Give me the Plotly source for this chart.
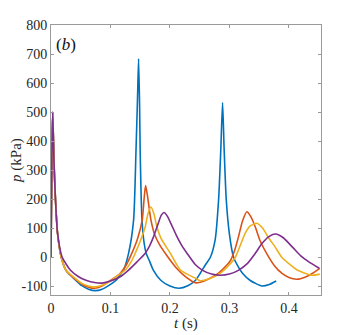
import plotly.graph_objects as go

# time (s) and pressure (kPa)
t_blue = [0, 0.0015, 0.0028, 0.005, 0.0075, 0.011, 0.017, 0.025, 0.033, 0.041,
          0.052, 0.063, 0.0745, 0.086, 0.098, 0.109, 0.1165, 0.122, 0.1305, 0.1389,
          0.1428, 0.1455, 0.1473, 0.149, 0.150, 0.153, 0.1565, 0.160, 0.166, 0.172,
          0.185, 0.200, 0.2155, 0.230, 0.2426, 0.251, 0.260, 0.268, 0.276, 0.2818,
          0.2855, 0.2885, 0.291, 0.2947, 0.300, 0.307, 0.314, 0.322, 0.335, 0.3546,
          0.367, 0.3787]
p_blue = [0, 350, 500, 330, 200, 83, 2, -44, -63, -78,
          -98, -110, -115, -110, -96, -80, -60, -44, 14, 129,
          359, 550, 684, 520, 359, 129, 50, 14, -15, -44,
          -80, -99, -107, -98, -80, -55, -25, 0, 60, 198,
          370, 533, 380, 198, 80, 0, -30, -55, -80, -99,
          -94, -82]

t_orange = [0, 0.0015, 0.0028, 0.005, 0.0075, 0.011, 0.017, 0.025, 0.033, 0.041,
            0.052, 0.063, 0.073, 0.085, 0.100, 0.1165, 0.127, 0.136, 0.145, 0.1534,
            0.1565, 0.159, 0.162, 0.165, 0.168, 0.174, 0.182, 0.195, 0.210, 0.225,
            0.2426, 0.251, 0.265, 0.2817, 0.292, 0.3013, 0.309, 0.3153, 0.322, 0.3294,
            0.336, 0.3434, 0.352, 0.3657, 0.376, 0.388, 0.400, 0.4134, 0.428, 0.440,
            0.452]
p_orange = [0, 350, 500, 330, 200, 83, 2, -44, -62, -76,
            -93, -103, -107, -100, -80, -55, -25, 14, 60, 129,
            200, 247, 215, 170, 129, 80, 45, 5, -35, -65,
            -88, -86, -75, -55, -35, -13, 25, 71, 125, 157,
            140, 105, 55, 2, -30, -55, -70, -76, -68, -55,
            -38]

t_yellow = [0, 0.0015, 0.0028, 0.005, 0.0075, 0.011, 0.017, 0.025, 0.033, 0.041,
            0.052, 0.063, 0.075, 0.088, 0.100, 0.113, 0.125, 0.135, 0.1417, 0.150,
            0.1585, 0.163, 0.168, 0.173, 0.178, 0.185, 0.2005, 0.2176, 0.2425, 0.251,
            0.265, 0.2846, 0.298, 0.310, 0.3266, 0.335, 0.346, 0.356, 0.365, 0.377,
            0.388, 0.3994, 0.415, 0.4386, 0.452]
p_yellow = [0, 350, 500, 330, 200, 83, 2, -44, -60, -73,
            -90, -99, -102, -95, -82, -62, -44, -15, 14, 55,
            105, 150, 173, 150, 105, 65, 14, -44, -72, -81,
            -75, -55, -30, 0, 83, 108, 117, 100, 70, 35,
            0, -21, -45, -62, -58]

t_purple = [0, 0.0015, 0.0028, 0.005, 0.0075, 0.011, 0.0185, 0.0324, 0.0464, 0.060,
            0.073, 0.086, 0.100, 0.1165, 0.130, 0.145, 0.1585, 0.166, 0.1725, 0.180,
            0.1855, 0.1904, 0.196, 0.203, 0.2118, 0.220, 0.2286, 0.2425, 0.255, 0.270,
            0.2845, 0.300, 0.315, 0.330, 0.343, 0.355, 0.367, 0.378, 0.390, 0.400,
            0.4106, 0.420, 0.433, 0.451]
p_purple = [0, 350, 500, 330, 200, 83, 2, -44, -67, -80,
            -87, -89, -82, -67, -45, -15, 14, 40, 71, 115,
            145, 154, 140, 110, 71, 40, 14, -25, -45, -58,
            -62, -58, -45, -22, 12, 48, 72, 80, 68, 48,
            25, 5, -15, -38]

x_ticks = [0, 0.1, 0.2, 0.3, 0.4]
x_labels = ["0", "0.1", "0.2", "0.3", "0.4"]
y_ticks = [-100, 0, 100, 200, 300, 400, 500, 600, 700, 800]
y_labels = ["-100", "0", "100", "200", "300", "400", "500", "600", "700", "800"]

SERIF = "Liberation Serif"
INK = "#262626"
AXIS = "#9a9a9a"

series = [
    (t_blue, p_blue, "#0072BD"),
    (t_orange, p_orange, "#D95319"),
    (t_yellow, p_yellow, "#EDB120"),
    (t_purple, p_purple, "#7E2F8E"),
]

fig = go.Figure()
for t, p, c in series:
    fig.add_trace(go.Scatter(x=t, y=p, mode="lines",
                             line=dict(color=c, width=1.6, shape="spline", smoothing=0.6),
                             showlegend=False, hoverinfo="skip"))

fig.add_annotation(text="(<i>b</i>)", xref="paper", yref="paper", x=0.01, y=0.97,
                   xanchor="left", yanchor="top", showarrow=False,
                   font=dict(family=SERIF, size=17, color="#111111"))
# axis titles placed by hand so the plot box keeps its size
fig.add_annotation(text="<i>t</i> (s)", xref="paper", yref="paper", x=0.5, y=-0.068,
                   xanchor="center", yanchor="top", showarrow=False,
                   font=dict(family=SERIF, size=15, color=INK))
fig.add_annotation(text="<i>p</i> (kPa)", xref="paper", yref="paper", x=-0.13, y=0.5,
                   xanchor="center", yanchor="middle", textangle=-90, showarrow=False,
                   font=dict(family=SERIF, size=15, color=INK))

# the page adds an 8px body margin, so the figure is sized to fit inside it
fig.update_layout(
    width=346, height=327,
    margin=dict(l=43, r=33, t=17, b=40),
    paper_bgcolor="white", plot_bgcolor="white",
    font=dict(family=SERIF, size=14, color=INK),
)
fig.update_xaxes(range=[0, 0.454], tickvals=x_ticks, ticktext=x_labels,
                 showgrid=False, zeroline=False, showline=True, mirror="ticks",
                 linecolor=AXIS, linewidth=1, ticks="inside", ticklen=3,
                 tickcolor=AXIS, tickfont=dict(family=SERIF, size=14, color=INK),
                 automargin=False)
fig.update_yaxes(range=[-130, 800], tickvals=y_ticks, ticktext=y_labels,
                 showgrid=False, zeroline=False, showline=True, mirror="ticks",
                 linecolor=AXIS, linewidth=1, ticks="inside", ticklen=3,
                 tickcolor=AXIS, tickfont=dict(family=SERIF, size=14, color=INK),
                 automargin=False)

fig.write_html("out.html")
